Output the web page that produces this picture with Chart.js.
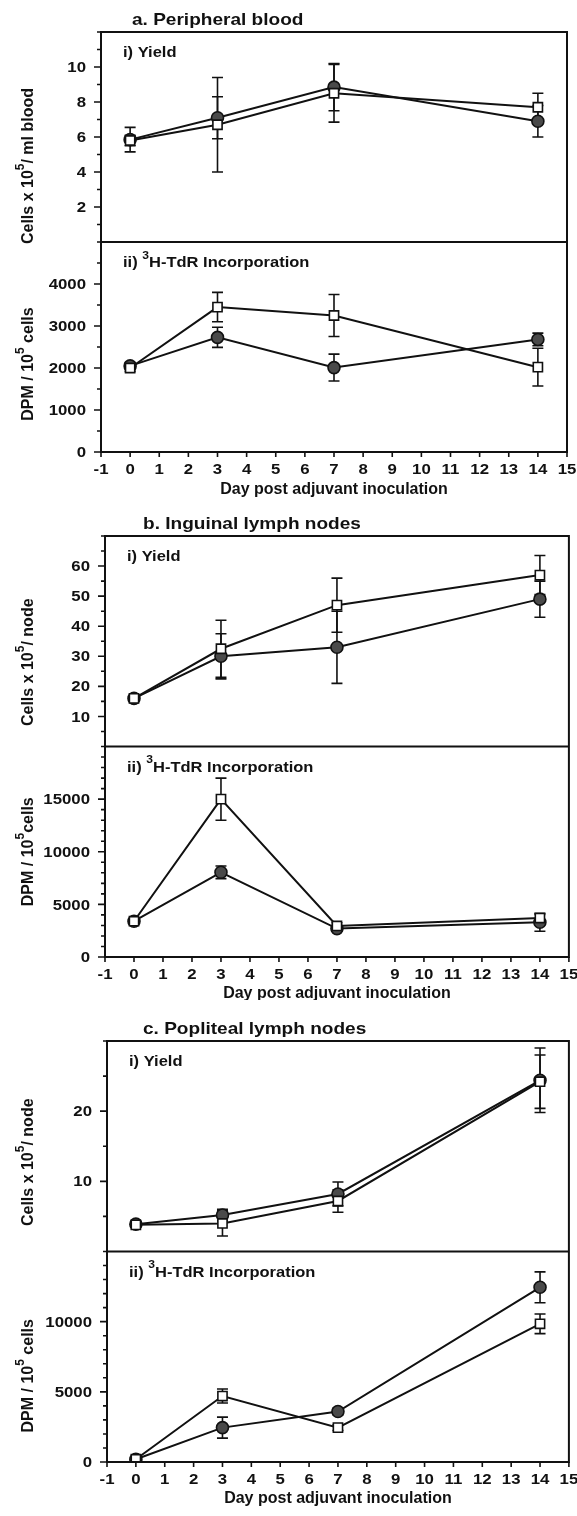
<!DOCTYPE html>
<html>
<head>
<meta charset="utf-8">
<script src="https://cdn.jsdelivr.net/npm/chart.js@4.4.0/dist/chart.umd.min.js"></script>
<style>
  body { margin: 0; background: #fff; }
  canvas { position: absolute; left: 0; }
</style>
</head>
<body>
<canvas id="chartA" width="577" height="500" style="top:0"></canvas>
<canvas id="chartB" width="577" height="500" style="top:500px"></canvas>
<canvas id="chartC" width="577" height="516" style="top:1000px"></canvas>
<script>
// Days sampled after adjuvant inoculation
const days = [0, 3, 7, 14];
const dayTicks = [-1, 0, 1, 2, 3, 4, 5, 6, 7, 8, 9, 10, 11, 12, 13, 14, 15];

// a. Peripheral blood
const bloodYieldOpen = [5.8, 6.7, 8.5, 7.7];
const bloodYieldOpenErr = [0.3, 2.7, 1.65, 0.8];
const bloodYieldFilled = [5.85, 7.1, 8.85, 6.9];
const bloodYieldFilledErr = [0.7, 1.2, 1.35, 0.9];
const bloodDpmOpen = [2000, 3450, 3250, 2020];
const bloodDpmOpenErr = [80, 350, 500, 450];
const bloodDpmFilled = [2050, 2730, 2010, 2680];
const bloodDpmFilledErr = [80, 240, 320, 150];
const bloodYieldTicks = [2, 4, 6, 8, 10];
const bloodDpmTicks = [0, 1000, 2000, 3000, 4000];

// b. Inguinal lymph nodes
const inguinalYieldOpen = [16, 32.5, 47, 57];
const inguinalYieldOpenErr = [0.8, 9.5, 9, 6.5];
const inguinalYieldFilled = [16, 30, 33, 49];
const inguinalYieldFilledErr = [0.8, 7.5, 12, 6];
const inguinalDpmOpen = [3400, 15000, 2950, 3700];
const inguinalDpmOpenErr = [200, 2000, 300, 350];
const inguinalDpmFilled = [3400, 8050, 2700, 3300];
const inguinalDpmFilledErr = [200, 600, 250, 850];
const inguinalYieldTicks = [10, 20, 30, 40, 50, 60];
const inguinalDpmTicks = [0, 5000, 10000, 15000];

// c. Popliteal lymph nodes
const poplitealYieldOpen = [3.8, 4.0, 7.2, 24.2];
const poplitealYieldOpenErr = [0.3, 1.8, 1.6, 3.8];
const poplitealYieldFilled = [3.9, 5.2, 8.2, 24.4];
const poplitealYieldFilledErr = [0.3, 0.8, 1.7, 4.6];
const poplitealDpmOpen = [200, 4700, 2450, 9850];
const poplitealDpmOpenErr = [100, 500, 200, 700];
const poplitealDpmFilled = [200, 2450, 3600, 12450];
const poplitealDpmFilledErr = [100, 750, 250, 1100];
const poplitealYieldTicks = [10, 20];
const poplitealDpmTicks = [0, 5000, 10000];

const FONT = "'Liberation Sans', Arial, Helvetica, sans-serif";
const WIDE = 1.12; // the lettering is a little broader than Arial

// draws text runs left to right, superscript runs smaller and raised
function drawRuns(ctx, runs, x, y, size) {
  let cx = x;
  runs.forEach(([txt, sup]) => {
    ctx.font = `bold ${sup ? Math.round(size * 0.72) : size}px ${FONT}`;
    ctx.fillText(txt, cx, sup ? y - size * 0.55 : y);
    cx += ctx.measureText(txt).width;
  });
}
function runsWidth(ctx, runs, size) {
  let w = 0;
  runs.forEach(([txt, sup]) => {
    ctx.font = `bold ${sup ? Math.round(size * 0.72) : size}px ${FONT}`;
    w += ctx.measureText(txt).width;
  });
  return w;
}
function wideText(ctx, txt, x, y, stretch) {
  ctx.save();
  ctx.translate(x, y);
  ctx.scale(stretch, 1);
  ctx.fillText(txt, 0, 0);
  ctx.restore();
}

// error bars, frame, ticks, tick labels and the panel texts
const decor = {
  id: 'decor',
  beforeDatasetsDraw(chart) {
    const ctx = chart.ctx;
    const xs = chart.scales.x;
    chart.data.datasets.forEach(ds => {
      const ys = chart.scales[ds.yAxisID];
      ctx.save();
      ctx.strokeStyle = '#111';
      ctx.lineWidth = 1.6;
      ds.data.forEach((pt, j) => {
        const e = ds.errors[j];
        const px = xs.getPixelForValue(pt.x);
        const hi = ys.getPixelForValue(pt.y + e);
        const lo = ys.getPixelForValue(pt.y - e);
        ctx.beginPath();
        ctx.moveTo(px, hi); ctx.lineTo(px, lo);
        ctx.moveTo(px - 5.5, hi); ctx.lineTo(px + 5.5, hi);
        ctx.moveTo(px - 5.5, lo); ctx.lineTo(px + 5.5, lo);
        ctx.stroke();
      });
      ctx.restore();
    });
  },
  afterDraw(chart, args, opts) {
    const ctx = chart.ctx;
    const {left, right, top, bottom} = chart.chartArea;
    const yY = chart.scales.yYield, yD = chart.scales.yDpm, xs = chart.scales.x;
    ctx.save();
    ctx.strokeStyle = '#111';
    ctx.fillStyle = '#111';
    ctx.lineWidth = 2;
    ctx.strokeRect(left, top, right - left, bottom - top);
    ctx.beginPath();
    ctx.moveTo(left, yY.bottom); ctx.lineTo(right, yY.bottom);
    ctx.stroke();

    // y ticks with their labels
    ctx.lineWidth = 1.6;
    ctx.font = `bold 15px ${FONT}`;
    ctx.textAlign = 'right';
    ctx.textBaseline = 'middle';
    ctx.beginPath();
    [[yY, opts.yieldLabels], [yD, opts.dpmLabels]].forEach(([s, labels]) => {
      s.ticks.forEach(t => {
        const py = s.getPixelForValue(t.value);
        const major = labels.includes(t.value);
        ctx.moveTo(left - (major ? 7 : 4), py); ctx.lineTo(left, py);
        if (major) wideText(ctx, String(t.value), left - 15, py + 1, WIDE);
      });
    });
    // x ticks with their labels
    ctx.textAlign = 'center';
    xs.ticks.forEach(t => {
      const px = xs.getPixelForValue(t.value);
      ctx.moveTo(px, bottom); ctx.lineTo(px, bottom + 5);
      if (dayTicks.includes(t.value)) wideText(ctx, String(t.value), px, bottom + 18, WIDE);
    });
    ctx.stroke();

    // panel title and inner captions
    ctx.textBaseline = 'alphabetic';
    ctx.textAlign = 'left';
    ctx.font = `bold 17px ${FONT}`;
    wideText(ctx, opts.title, left + opts.titleDx, top - 7, WIDE);
    [[yY, [['i) Yield', false]]], [yD, [['ii) ', false], ['3', true], ['H-TdR Incorporation', false]]]].forEach(([s, runs]) => {
      ctx.save();
      ctx.translate(left + 22, s.top + 25);
      ctx.scale(1.1, 1);
      drawRuns(ctx, runs, 0, 0, 15);
      ctx.restore();
    });

    // x axis title
    ctx.font = `bold 16px ${FONT}`;
    ctx.textAlign = 'center';
    ctx.fillText('Day post adjuvant inoculation', (left + right) / 2, bottom + opts.xTitleDy);

    // rotated y axis titles
    ctx.textAlign = 'left';
    [[yY, opts.yieldTitle, opts.yieldTitleDy], [yD, opts.dpmTitle, opts.dpmTitleDy]].forEach(([s, runs, dy]) => {
      const w = runsWidth(ctx, runs, 16);
      ctx.save();
      ctx.translate(33, (s.top + s.bottom) / 2 + dy);
      ctx.rotate(-Math.PI / 2);
      drawRuns(ctx, runs, -w / 2, 0, 16);
      ctx.restore();
    });
    ctx.restore();
  }
};

function series(values, errors, axis, filled) {
  return {
    data: days.map((d, i) => ({x: d, y: values[i]})),
    errors: errors,
    yAxisID: axis,
    borderColor: '#111',
    borderWidth: 2,
    tension: 0,
    pointStyle: filled ? 'circle' : 'rect',
    pointRadius: filled ? 6 : 6.5,
    pointBackgroundColor: filled ? '#4a4a4a' : '#fff',
    pointBorderColor: '#111',
    pointBorderWidth: 1.6
  };
}

function yScale(max, step, width) {
  return {
    type: 'linear',
    position: 'left',
    stack: 'panel',
    stackWeight: 1,
    min: 0,
    max: max,
    grid: {display: false},
    border: {display: false},
    ticks: {stepSize: step, autoSkip: false, display: false},
    afterFit: s => { s.width = width; }
  };
}

function makePanel(id, p) {
  new Chart(document.getElementById(id), {
    type: 'line',
    data: {
      datasets: [
        series(p.yieldOpen, p.yieldOpenErr, 'yYield', false),
        series(p.yieldFilled, p.yieldFilledErr, 'yYield', true),
        series(p.dpmOpen, p.dpmOpenErr, 'yDpm', false),
        series(p.dpmFilled, p.dpmFilledErr, 'yDpm', true)
      ]
    },
    options: {
      responsive: false,
      animation: false,
      layout: {padding: {top: p.padTop, right: 577 - p.right, left: 0, bottom: 0}},
      plugins: {
        legend: {display: false},
        tooltip: {enabled: false},
        decor: p.decor
      },
      scales: {
        x: {
          type: 'linear',
          min: dayTicks[0],
          max: dayTicks[dayTicks.length - 1],
          grid: {display: false},
          border: {display: false},
          ticks: {stepSize: 1, autoSkip: false, display: false},
          afterFit: s => { s.height = p.xAxisH; }
        },
        // the stack is laid out bottom-up: DPM below, yield above
        yDpm: yScale(p.dpmMax, p.dpmStep, p.left),
        yYield: yScale(p.yieldMax, p.yieldStep, p.left)
      }
    },
    plugins: [decor]
  });
}

makePanel('chartA', {
  yieldOpen: bloodYieldOpen, yieldOpenErr: bloodYieldOpenErr,
  yieldFilled: bloodYieldFilled, yieldFilledErr: bloodYieldFilledErr,
  dpmOpen: bloodDpmOpen, dpmOpenErr: bloodDpmOpenErr,
  dpmFilled: bloodDpmFilled, dpmFilledErr: bloodDpmFilledErr,
  yieldMax: 12, yieldStep: 1, dpmMax: 5000, dpmStep: 500,
  left: 101, right: 567, padTop: 32, xAxisH: 48,
  decor: {
    title: 'a. Peripheral blood', titleDx: 31, xTitleDy: 42,
    yieldLabels: bloodYieldTicks, dpmLabels: bloodDpmTicks,
    yieldTitle: [['Cells x 10', false], ['5', true], ['/ ml blood', false]], yieldTitleDy: 29,
    dpmTitle: [['DPM / 10', false], ['5', true], [' cells', false]], dpmTitleDy: 17
  }
});

makePanel('chartB', {
  yieldOpen: inguinalYieldOpen, yieldOpenErr: inguinalYieldOpenErr,
  yieldFilled: inguinalYieldFilled, yieldFilledErr: inguinalYieldFilledErr,
  dpmOpen: inguinalDpmOpen, dpmOpenErr: inguinalDpmOpenErr,
  dpmFilled: inguinalDpmFilled, dpmFilledErr: inguinalDpmFilledErr,
  yieldMax: 70, yieldStep: 5, dpmMax: 20000, dpmStep: 1000,
  left: 105, right: 569, padTop: 36, xAxisH: 43,
  decor: {
    title: 'b. Inguinal lymph nodes', titleDx: 38, xTitleDy: 41,
    yieldLabels: inguinalYieldTicks, dpmLabels: inguinalDpmTicks,
    yieldTitle: [['Cells x 10', false], ['5', true], ['/ node', false]], yieldTitleDy: 21,
    dpmTitle: [['DPM / 10', false], ['5', true], ['cells', false]], dpmTitleDy: 0
  }
});

makePanel('chartC', {
  yieldOpen: poplitealYieldOpen, yieldOpenErr: poplitealYieldOpenErr,
  yieldFilled: poplitealYieldFilled, yieldFilledErr: poplitealYieldFilledErr,
  dpmOpen: poplitealDpmOpen, dpmOpenErr: poplitealDpmOpenErr,
  dpmFilled: poplitealDpmFilled, dpmFilledErr: poplitealDpmFilledErr,
  yieldMax: 30, yieldStep: 5, dpmMax: 15000, dpmStep: 1000,
  left: 107, right: 571, padTop: 41, xAxisH: 54,
  decor: {
    title: 'c. Popliteal lymph nodes', titleDx: 36, xTitleDy: 41,
    yieldLabels: poplitealYieldTicks, dpmLabels: poplitealDpmTicks,
    yieldTitle: [['Cells x 10', false], ['5', true], ['/ node', false]], yieldTitleDy: 16,
    dpmTitle: [['DPM / 10', false], ['5', true], [' cells', false]], dpmTitleDy: 19
  }
});
</script>
</body>
</html>
